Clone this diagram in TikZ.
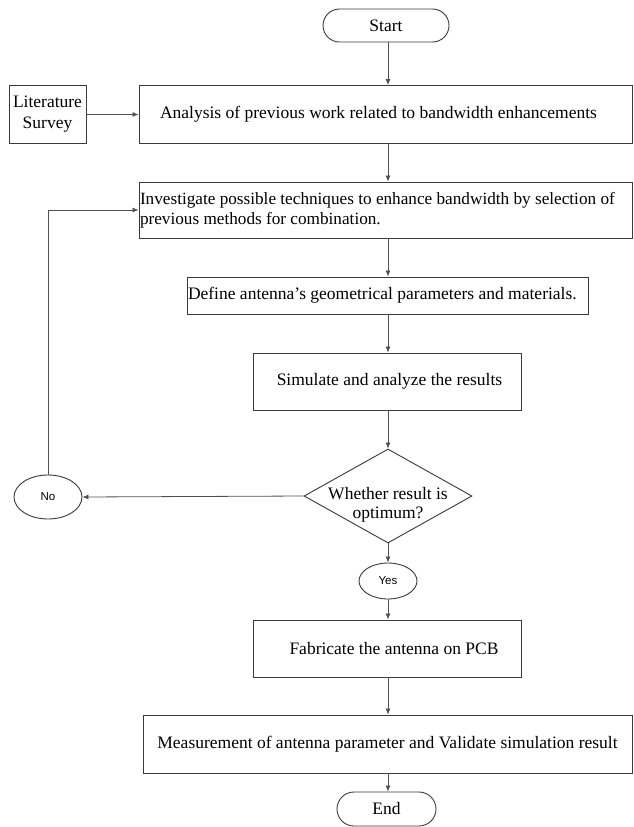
\documentclass[tikz,border=0pt]{standalone}
\usepackage{fontspec}
\setmainfont{Liberation Serif}
\newfontfamily\sansf{Liberation Sans}
\usetikzlibrary{shapes.geometric,arrows.meta}
\definecolor{boxc}{HTML}{3A3A3A}
\definecolor{linec}{HTML}{505050}
\tikzset{
  base/.style={draw=boxc, line width=0.9pt, inner sep=0pt, font=\fontsize{17.5}{21}\selectfont, text=black},
  stepbox/.style={base, rectangle, align=center},
  leftbox/.style={base, rectangle, align=flush left, inner xsep=1pt},
  term/.style={base, rectangle},
  oval/.style={base, ellipse, font=\sansf\fontsize{11.5}{13}\selectfont},
  dec/.style={base, diamond},
  dectext/.style={font=\fontsize{17.5}{19.5}\selectfont, align=center, inner sep=0pt},
  arr/.style={draw=linec, line width=0.8pt, -{Latex[length=6pt,width=5pt]}},
}
\begin{document}
\begin{tikzpicture}[x=1pt,y=-1pt]
\useasboundingbox[fill=white] (0,0) rectangle (633,827);

\node[term, minimum width=126pt, minimum height=33pt, rounded corners=16.5pt] (start) at (386,25.5) {Start};
\node[stepbox, minimum width=77pt, minimum height=58pt] (lit) at (47.5,114.5) {Literature\\Survey};
\node[stepbox, minimum width=493pt, minimum height=58pt] (analysis) at (385.5,114.5) {Analysis of previous work related to bandwidth enhancements\hspace*{14pt}};
\node[leftbox, text width=491pt, minimum height=56pt, font=\fontsize{17.2}{20}\selectfont] (invest) at (385.5,210) {\mbox{Investigate possible techniques to enhance bandwidth by selection of}\\\mbox{previous methods for combination.}};
\node[leftbox, text width=399pt, minimum height=37pt] (define) at (387.5,295.5) {\mbox{Define antenna’s geometrical parameters and materials.}};
\node[stepbox, minimum width=268pt, minimum height=57pt] (simulate) at (387,381.5) {\hspace*{5pt}Simulate and analyze the results};
\node[dec, minimum width=168pt, minimum height=94pt] (dec) at (388,496) {};
\node[dectext] (dtext) at ([yshift=-9pt]dec.center) {Whether result is\\optimum?};
\node[oval, minimum width=68pt, minimum height=44pt] (no) at (48,497) {No};
\node[oval, minimum width=58pt, minimum height=36pt] (yes) at (388,581) {Yes};
\node[stepbox, minimum width=268pt, minimum height=57pt] (fab) at (387,648.5) {\hspace*{14pt}Fabricate the antenna on PCB};
\node[stepbox, minimum width=489pt, minimum height=58pt] (meas) at (387.5,744) {Measurement of antenna parameter and Validate simulation result};
\node[term, minimum width=99pt, minimum height=34pt, rounded corners=17pt] (end) at (386.5,809) {End};

\draw[arr] (start.south -| dec.north) -- (analysis.north -| dec.north);
\draw[arr] (lit.east) -- (lit.east -| analysis.west);
\draw[arr] (analysis.south -| dec.north) -- (invest.north -| dec.north);
\draw[arr] (invest.south -| dec.north) -- (define.north -| dec.north);
\draw[arr] (define.south -| dec.north) -- (simulate.north -| dec.north);
\draw[arr] (simulate.south -| dec.north) -- (dec.north);
\draw[arr] (dec.west) -- (no.east);
\draw[arr] (no.north) |- (invest.west);
\draw[arr] (dec.south) -- (yes.north);
\draw[arr] (yes.south) -- (fab.north -| yes.south);
\draw[arr] (fab.south -| dec.north) -- (meas.north -| dec.north);
\draw[arr] (meas.south -| dec.north) -- (end.north -| dec.north);
\end{tikzpicture}
\end{document}
